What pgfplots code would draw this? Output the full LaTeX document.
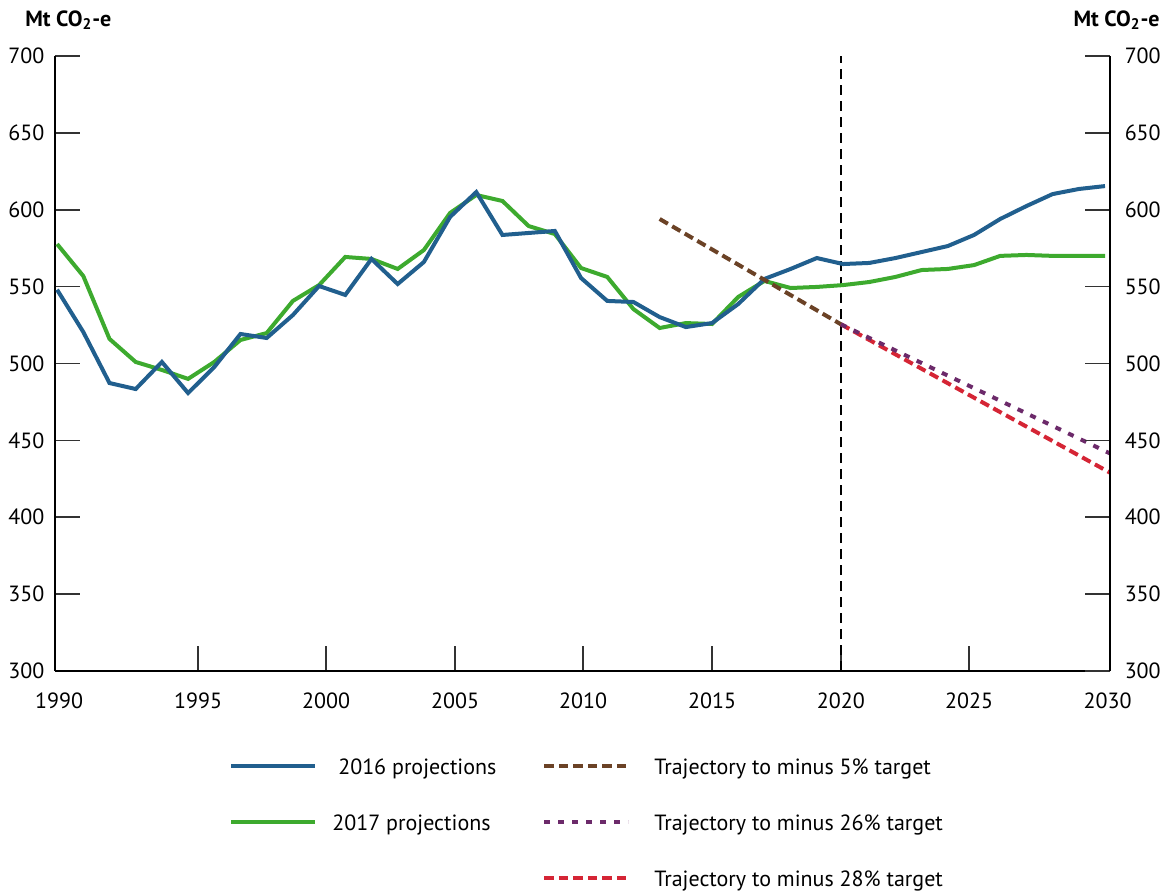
\documentclass[border=0pt]{standalone}
\usepackage{fontspec}
\setmainfont{PT Sans}
\usepackage{pgfplots}
\pgfplotsset{compat=1.18}

\definecolor{projblue}{RGB}{33,95,142}
\definecolor{projgreen}{RGB}{61,170,46}
\definecolor{trajbrown}{RGB}{107,66,38}
\definecolor{trajpurple}{RGB}{108,42,106}
\definecolor{trajred}{RGB}{213,37,53}

\newcommand\basefont{\fontsize{11}{13}\selectfont}

\begin{document}
\basefont
\begin{tikzpicture}
\begin{axis}[
    width=527.5pt, height=307.5pt, scale only axis,
    xmin=1989.92, xmax=2030.19, ymin=300, ymax=700,
    axis x line*=bottom, axis y line*=left,
    axis line style={black, line width=0.9pt},
    % tick marks sit where the source chart put them
    xtick={1995.38,2000.27,2005.19,2010.08,2015.0,2019.92,2024.81},
    xticklabels={1995,2000,2005,2010,2015,2020,2025},
    extra x ticks={1990.08,2030.1},
    extra x tick labels={1990,2030},
    extra x tick style={major tick length=0pt},
    ytick={300,350,...,700},
    tick align=inside,
    major tick length=12.5pt,
    tick style={black!80, line width=0.8pt},
    ticklabel style={font=\basefont},
    /pgf/number format/assume math mode=true,
    /pgf/number format/1000 sep={},
    xticklabel style={yshift=-6.8pt},
    yticklabel style={xshift=-1.5pt},
    clip=false,
    legend columns=2,
    legend cell align=left,
    legend style={
        at={(axis description cs:0,0)}, anchor=north west,
        xshift=87pt, yshift=-43.5pt,
        draw=none, fill=none, inner sep=0pt,
        row sep=18pt,
        nodes={inner sep=0pt, text height=8pt, text depth=2pt, font=\basefont},
        /tikz/every odd column/.append style={column sep=12pt},
        /tikz/every even column/.append style={column sep=23pt},
    },
    legend image code/.code={\draw[#1] (0pt,1pt) -- (42pt,1pt);},
]

% vertical marker at 2020
\addplot[forget plot, black, line width=0.6pt, dash pattern=on 5pt off 3pt]
  coordinates {(2019.92,300) (2019.92,700)};

% 2017 projections
\addplot[forget plot, projgreen, line width=2pt] coordinates {
(1990,577.7) (1991,556.9) (1992,516.0) (1993,501.0) (1994,495.8)
(1995,490.0) (1996,501.0) (1997,515.3) (1998,519.8) (1999,540.7)
(2000,551.0) (2001,569.3) (2002,568.0) (2003,561.5) (2004,573.8)
(2005,597.9) (2006,609.6) (2007,605.7) (2008,589.4) (2009,584.2)
(2010,562.1) (2011,556.3) (2012,535.4) (2013,523.1) (2014,526.3)
(2015,525.7) (2016,543.3) (2017,553.7) (2018,549.1) (2019,549.8)
(2020,551.0) (2021,553.0) (2022,556.3) (2023,560.8) (2024,561.5)
(2025,564.0) (2026,570.0) (2027,570.6) (2028,570.0) (2029,570.0)
(2030,570.0)};

% 2016 projections
\addplot[forget plot, projblue, line width=2pt] coordinates {
(1990,548.0) (1991,520.5) (1992,487.3) (1993,483.4) (1994,501.0)
(1995,480.8) (1996,497.7) (1997,519.2) (1998,516.6) (1999,531.5)
(2000,550.4) (2001,544.6) (2002,568.0) (2003,551.7) (2004,566.0)
(2005,595.3) (2006,611.5) (2007,583.6) (2008,584.9) (2009,586.2)
(2010,555.6) (2011,540.7) (2012,540.0) (2013,530.2) (2014,523.7)
(2015,526.3) (2016,538.7) (2017,555.0) (2018,561.5) (2019,568.6)
(2020,564.7) (2021,565.4) (2022,568.6) (2023,572.5) (2024,576.4)
(2025,583.6) (2026,594.0) (2027,602.4) (2028,610.2) (2029,613.5)
(2030,615.4)};

% trajectories
\addplot[forget plot, trajbrown, line width=2pt, dash pattern=on 4.75pt off 2.5pt]
  coordinates {(2013,594.0) (2019.92,525.5)};
\addplot[forget plot, trajred, line width=2pt, dash pattern=on 4.75pt off 2.5pt]
  coordinates {(2019.92,525.5) (2030.19,429.0)};
\addplot[forget plot, trajpurple, line width=2pt, dash pattern=on 3pt off 4pt]
  coordinates {(2019.92,525.5) (2030.19,441.5)};

% legend, filled row by row
\addlegendimage{projblue, line width=2pt}
\addlegendentry{\hspace{-4.5pt}\ 2016 projections}
\addlegendimage{trajbrown, line width=2pt, dash pattern=on 4.75pt off 2.5pt}
\addlegendentry{Trajectory to minus 5\% target}
\addlegendimage{projgreen, line width=2pt}
\addlegendentry{\hspace{-4.5pt}2017 projections}
\addlegendimage{trajpurple, line width=2pt, dash pattern=on 3pt off 4pt}
\addlegendentry{Trajectory to minus 26\% target}
\addlegendimage{empty legend}
\addlegendentry{}
\addlegendimage{trajred, line width=2pt, dash pattern=on 4.75pt off 2.5pt}
\addlegendentry{Trajectory to minus 28\% target}

\node[anchor=base west, inner sep=0pt, font=\bfseries\basefont]
  at (rel axis cs:0,1) [xshift=-15pt, yshift=15pt] {Mt CO\textsubscript{2}-e};
\end{axis}

\begin{axis}[
    width=527.5pt, height=307.5pt, scale only axis,
    xmin=1989.92, xmax=2030.19, ymin=300, ymax=700,
    axis x line=none, axis y line*=right,
    axis line style={black, line width=0.9pt},
    ytick={300,350,...,700},
    tick align=inside,
    major tick length=12.5pt,
    tick style={black!80, line width=0.8pt},
    ticklabel style={font=\basefont},
    /pgf/number format/assume math mode=true,
    yticklabel style={xshift=3.5pt},
    clip=false,
]
\node[anchor=base east, inner sep=0pt, font=\bfseries\basefont]
  at (rel axis cs:1,1) [xshift=25pt, yshift=15pt] {Mt CO\textsubscript{2}-e};
\end{axis}

\pgfresetboundingbox
\path[use as bounding box] (-27.5pt,-112pt) rectangle (556.5pt,335.5pt);
\end{tikzpicture}
\end{document}
